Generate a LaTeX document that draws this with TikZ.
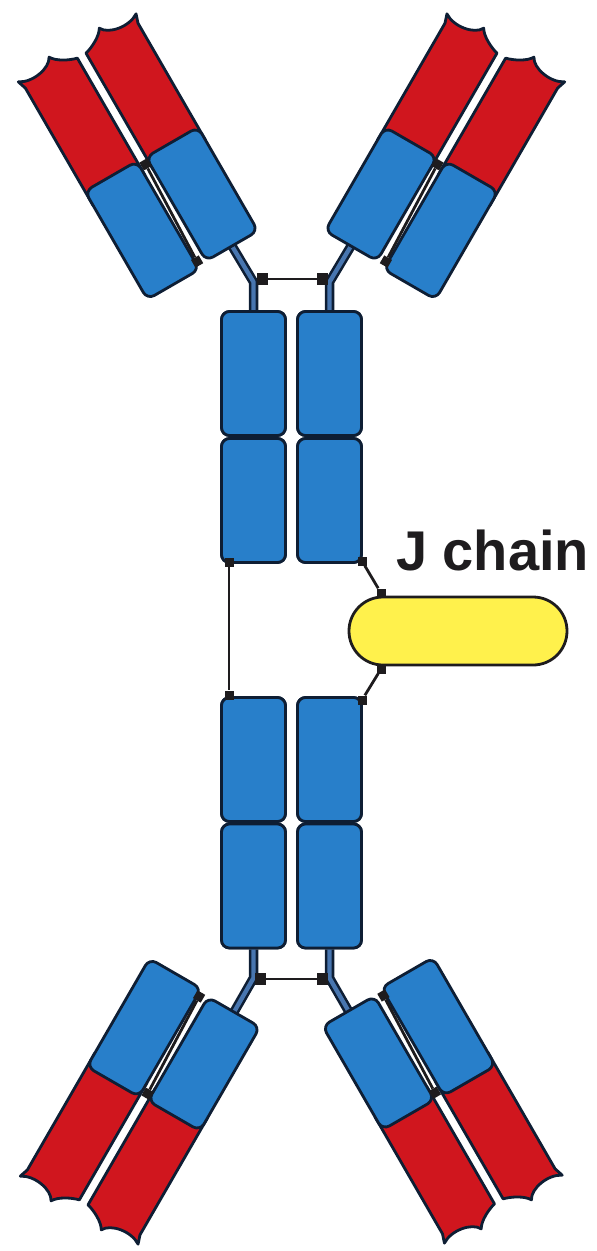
\documentclass[tikz,border=0pt]{standalone}
\usepackage{fontspec}
\setmainfont{Liberation Sans}
\definecolor{ablue}{RGB}{40,127,202}
\definecolor{edge}{RGB}{14,30,52}
\definecolor{ared}{RGB}{208,22,30}
\definecolor{jyellow}{RGB}{255,241,76}
\definecolor{stemcore}{RGB}{72,118,176}
\definecolor{ink}{RGB}{30,28,30}

% One Fab arm in local coordinates: inner (heavy) column centred on a=0,
% outer (light) column on a=70; b runs outward from the hinge end.
\newcommand{\drawarm}[1]{%
  % variable domains
  \draw[vdom] (-30,105) -- (-30,240) -- (-33,249)
     .. controls (-21,241) and (1,245) .. (6,255)
     .. controls (10,248) and (22,242) .. (30,240) -- (30,105) -- cycle;
  \draw[vdom] (100,105) -- (100,240) -- (103,249)
     .. controls (91,241) and (69,245) .. (64,255)
     .. controls (60,248) and (48,242) .. (40,240) -- (40,105) -- cycle;
  % constant domains
  \draw[cdom] (-30,0) rectangle (30,120);
  \draw[cdom] (40,-4) rectangle (100,121);
  % interchain disulfide bond
  \node[bsq, transform shape] (#1s1) at (34,114) {};
  \node[bsq, transform shape] (#1s2) at (38,4) {};
  \draw[bond] (#1s1) -- (#1s2);
}

\begin{document}
\begin{tikzpicture}[x=1pt, y=-1pt, line join=round,
  cbox/.style={draw=edge, fill=ablue, line width=2.8pt, rounded corners=8pt,
    inner sep=0pt, minimum width=64pt, minimum height=124pt},
  cdom/.style={draw=edge, fill=ablue, line width=2.8pt, rounded corners=8pt},
  vdom/.style={draw=edge, fill=ared, line width=2.8pt},
  stemout/.style={draw=edge, line width=9.5pt},
  stemin/.style={draw=stemcore, line width=4.3pt},
  bond/.style={draw=ink, line width=2.8pt},
  bsq/.style={fill=ink, inner sep=0pt, minimum size=9pt},
  hsq/.style={fill=ink, inner sep=0pt, minimum width=10.5pt, minimum height=11.5pt},
  jbox/.style={draw=ink, fill=jyellow, line width=2.8pt, inner sep=0pt,
    minimum width=218pt, minimum height=68pt, rounded corners=33.9pt}]

\useasboundingbox (0,0) rectangle (597,1251);

% Fc constant domains (positions only; drawn later on top of the stems)
\path node[cbox] (UL1) at (253.5,373.5) {}
      node[cbox] (UL2) at (253.5,500.5) {}
      node[cbox] (UR1) at (329.5,373.5) {}
      node[cbox] (UR2) at (329.5,500.5) {}
      node[cbox] (LL1) at (253.5,759.5) {}
      node[cbox] (LL2) at (253.5,886) {}
      node[cbox] (LR1) at (329.5,759.5) {}
      node[cbox] (LR2) at (329.5,886) {};

% hinge bends and arm attachment points
\coordinate (ULb) at (253.5,282);
\coordinate (URb) at (329.5,282);
\coordinate (LLb) at (253.5,978);
\coordinate (LRb) at (329.5,978);
\coordinate (ULh) at (232,246);
\coordinate (URh) at (351,246);
\coordinate (LLh) at (234,1012);
\coordinate (LRh) at (348.5,1011);

% hinge stems
\foreach \s in {stemout, stemin} {
  \draw[\s] (UL1.north) -- (ULb) -- (ULh);
  \draw[\s] (UR1.north) -- (URb) -- (URh);
  \draw[\s] (LL2.south) -- (LLb) -- (LLh);
  \draw[\s] (LR2.south) -- (LRb) -- (LRh);
}

% hinge disulfide bonds
\node[hsq] (h1) at (262.5,279) {};
\node[hsq] (h2) at (322.5,279) {};
\node[hsq] (h3) at (260.5,979) {};
\node[hsq] (h4) at (322.5,979) {};
\draw[bond] (h1) -- (h2);
\draw[bond] (h3) -- (h4);

% Fab arms
\begin{scope}[shift={(ULh)}, rotate=210]
  \drawarm{UL}
\end{scope}
\begin{scope}[shift={(URh)}, rotate=150, xscale=-1]
  \drawarm{UR}
\end{scope}
\begin{scope}[shift={(LLh)}, rotate=-30, xscale=-1]
  \drawarm{LL}
\end{scope}
\begin{scope}[shift={(LRh)}, rotate=30]
  \drawarm{LR}
\end{scope}

% Fc domains drawn over the stems
\node[cbox] at (UL1) {};
\node[cbox] at (UL2) {};
\node[cbox] at (UR1) {};
\node[cbox] at (UR2) {};
\node[cbox] at (LL1) {};
\node[cbox] at (LL2) {};
\node[cbox] at (LR1) {};
\node[cbox] at (LR2) {};

% J chain
\node[jbox] (J) at (458,631) {};
\node[anchor=base west, inner sep=0pt, text=ink,
  font=\bfseries\fontsize{56}{60}\selectfont] (Jlabel) at (396,570) {J chain};

% disulfide bonds joining the two monomers and the J chain
\node[bsq] (b1) at (229,562) {};
\node[bsq] (b2) at (229,695) {};
\node[bsq] (b3) at (362,561) {};
\node[bsq] (b4) at (381,593) {};
\node[bsq] (b5) at (381,669) {};
\node[bsq] (b6) at (362,700) {};
\draw[bond] (b1) -- (b2);
\draw[bond] (b3) -- (b4);
\draw[bond] (b5) -- (b6);

\end{tikzpicture}
\end{document}
